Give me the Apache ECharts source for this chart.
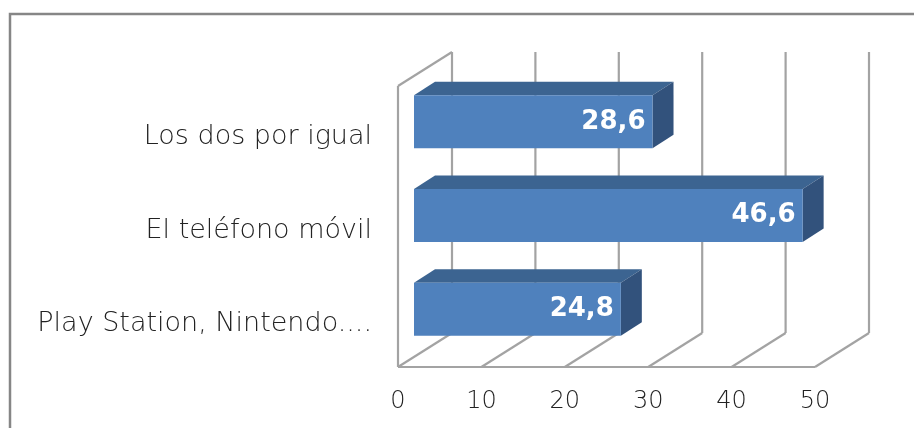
<!DOCTYPE html>
<html>
<head>
<meta charset="utf-8">
<style>html,body{margin:0;padding:0;background:#fff;overflow:hidden}#c{width:914px;height:428px}</style>
<script src="https://cdn.jsdelivr.net/npm/echarts@6/dist/echarts.min.js"></script>
</head>
<body>
<div id="c"></div>
<script>
const categories = ["Play Station, Nintendo....", "El teléfono móvil", "Los dos por igual"];
const values = [24.8, 46.6, 28.6];
const tickValues = [0, 10, 20, 30, 40, 50];

const FONT = "'DejaVu Sans'";
const GRID = {left: 398, right: 99, top: 86, bottom: 61};
const WALL_DX = 54, WALL_DY = -34;
const BAR_DX = 21, BAR_DY = -13.5, BAR_H = 53, BAR_INSET = 16, BAR_SHIFT = -11;
const LINE = {stroke: "#a3a3a3", lineWidth: 2.2, fill: null};

function renderWall(params, api) {
  const cs = params.coordSys;
  const v = api.value(0);
  const x = api.coord([v, 0])[0];
  const top = cs.y, bottom = cs.y + cs.height;
  const children = [
    {type: "line", shape: {x1: x, y1: bottom, x2: x + WALL_DX, y2: bottom + WALL_DY}, style: LINE},
    {type: "line", shape: {x1: x + WALL_DX, y1: top + WALL_DY, x2: x + WALL_DX, y2: bottom + WALL_DY}, style: LINE}
  ];
  if (v === tickValues[0]) {
    children.push(
      {type: "line", shape: {x1: x, y1: top, x2: x, y2: bottom}, style: LINE},
      {type: "line", shape: {x1: x, y1: top, x2: x + WALL_DX, y2: top + WALL_DY}, style: LINE},
      {type: "line", shape: {x1: x, y1: bottom, x2: cs.x + cs.width, y2: bottom}, style: LINE}
    );
  }
  return {type: "group", children};
}

function renderBar(params, api) {
  const val = api.value(0), cat = api.value(1);
  const end = api.coord([val, cat]);
  const start = api.coord([0, cat]);
  const unit = api.coord([10, cat])[0] - start[0];
  const x0 = start[0] + BAR_INSET;
  const x1 = x0 + val * unit / 10;
  const y0 = end[1] + BAR_SHIFT - BAR_H / 2;
  const y1 = y0 + BAR_H;
  return {type: "group", children: [
    {type: "polygon", shape: {points: [[x0, y0], [x0 + BAR_DX, y0 + BAR_DY], [x1 + BAR_DX, y0 + BAR_DY], [x1, y0]]}, style: {fill: "#3c6491"}},
    {type: "polygon", shape: {points: [[x1, y0], [x1 + BAR_DX, y0 + BAR_DY], [x1 + BAR_DX, y1 + BAR_DY], [x1, y1]]}, style: {fill: "#32527c"}},
    {type: "rect", shape: {x: x0, y: y0, width: x1 - x0, height: y1 - y0}, style: {fill: "#4f81bd"}},
    {type: "text", x: x1 - 7, y: y0 + BAR_H / 2, style: {
      text: String(val).replace(".", ","), fill: "#fff", font: "bold 26px " + FONT, align: "right", verticalAlign: "middle"
    }}
  ]};
}

const chart = echarts.init(document.getElementById("c"), null, {renderer: "canvas"});
chart.setOption({
  animation: false,
  backgroundColor: "#fff",
  grid: GRID,
  graphic: [{type: "polyline", silent: true, shape: {points: [[10, 428], [10, 14], [914, 14]]}, style: {stroke: "#868686", lineWidth: 2.5, fill: null}}],
  xAxis: {
    type: "value", min: 0, max: 50, interval: 10,
    axisLine: {show: false}, axisTick: {show: false}, splitLine: {show: false},
    axisLabel: {margin: 23, fontFamily: FONT, fontWeight: 200, fontSize: 24, color: "#222"}
  },
  yAxis: {
    type: "category", data: categories,
    axisLine: {show: false}, axisTick: {show: false}, splitLine: {show: false},
    axisLabel: {margin: 26, fontFamily: FONT, fontWeight: 200, fontSize: 27, color: "#222", verticalAlign: "top", lineHeight: 8}
  },
  series: [
    {type: "custom", silent: true, clip: false, z: 1, renderItem: renderWall, encode: {x: 0}, data: tickValues.map(t => [t])},
    {type: "custom", silent: true, clip: false, z: 2, renderItem: renderBar, encode: {x: 0, y: 1}, data: values.map((v, i) => [v, i])}
  ]
});
</script>
</body>
</html>
